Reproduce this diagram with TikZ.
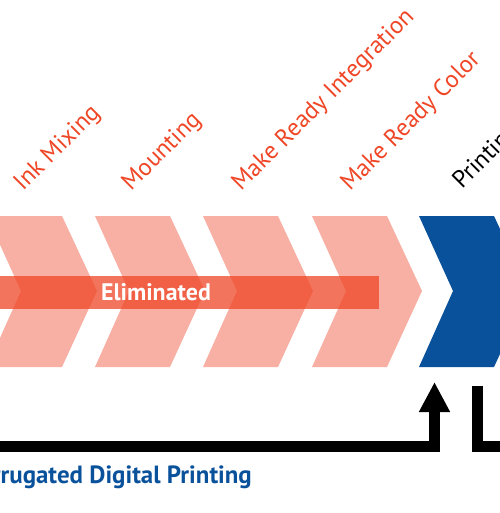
\documentclass[tikz,border=0pt]{standalone}
\usepackage{fontspec}
\setmainfont{PT Sans}
\usepackage{xcolor}
\definecolor{elim}{RGB}{239,70,38}
\definecolor{chev}{RGB}{247,176,163}
\definecolor{digi}{RGB}{10,81,155}
\usetikzlibrary{arrows.meta}

\begin{document}
\begin{tikzpicture}[x=1bp,y=-1bp,
  stagelabel/.style={rotate=45,anchor=base west,inner sep=0pt,text=elim,
    font=\fontsize{24.5}{30}\selectfont},
  flow/.style={line width=11bp,black}]
  \useasboundingbox (0,0) rectangle (500,513);
  \clip (0,0) rectangle (500,513);

  % stages that are eliminated
  \foreach \l in {-13,95,203,312}
    \fill[chev] (\l,216) -- ++(75,0) -- ++(35,75) -- ++(-35,76)
      -- ++(-75,0) -- ++(34,-76) -- cycle;
  % printing stage
  \fill[digi] (419,216) -- ++(75,0) -- ++(35,75) -- ++(-35,76)
    -- ++(-75,0) -- ++(34,-76) -- cycle;

  \fill[elim,fill opacity=.75] (-5,276) rectangle (379,309);
  \node[font=\bfseries\fontsize{24}{28}\selectfont,text=white] (elimtext)
    at (156,292) {Eliminated};

  \node[stagelabel] (ink) at (23,192) {Ink Mixing};
  \node[stagelabel] (mount) at (131,192) {Mounting};
  \node[stagelabel] (mrint) at (241,192) {Make Ready Integration};
  \node[stagelabel] (mrcol) at (350,192) {Make Ready Color};
  \node[stagelabel,text=black] (print) at (462,190) {Printing};

  \node[anchor=base east,inner sep=0pt,text=digi,
    font=\bfseries\fontsize{25}{30}\selectfont] (cdp) at (252,483)
    {Corrugated Digital Printing};

  \coordinate (lin) at (-5,446.5);
  \coordinate (up) at (434.5,382);
  \draw[flow,-{Triangle[width=29bp,length=30bp]}] (lin) -| (up);
  \coordinate (out) at (477.5,386);
  \coordinate (right) at (510,446.5);
  \draw[flow] (out) |- (right);
\end{tikzpicture}
\end{document}
